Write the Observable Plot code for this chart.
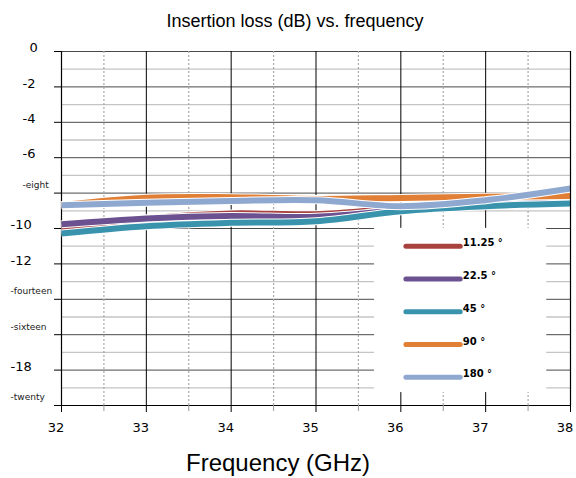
<!DOCTYPE html>
<html>
<head>
<meta charset="utf-8">
<script src="https://cdn.jsdelivr.net/npm/d3@7"></script>
<script src="https://cdn.jsdelivr.net/npm/@observablehq/plot@0.6"></script>
<style>
  body { margin: 0; background: white; }
  #chart { width: 576px; height: 478px; }
</style>
</head>
<body>
<div id="chart"></div>
<script>
// ---- data ----
const freqs = [32, 33, 34, 35, 36, 37, 38];
const seriesNames = ["11.25 °", "22.5 °", "45 °", "90 °", "180 °"];
const seriesColors = ["#a8423f", "#6b5190", "#3a93ad", "#e07f35", "#8fa8cf"];
const loss11 = [-10.0, -9.43, -9.15, -9.19, -8.85, -8.68, -8.40];
const loss22 = [-9.76, -9.43, -9.29, -9.34, -8.97, -8.68, -8.51];
const loss45 = [-10.28, -9.87, -9.68, -9.59, -9.02, -8.74, -8.59];
const loss90 = [-8.68, -8.26, -8.23, -8.33, -8.27, -8.21, -8.16];
const loss180 = [-8.68, -8.55, -8.44, -8.40, -8.74, -8.40, -7.74];
const seriesValues = [loss11, loss22, loss45, loss90, loss180];

const xTicks = [32, 33, 34, 35, 36, 37, 38];
const xHalfTicks = [32.5, 33.5, 34.5, 35.5, 36.5, 37.5];
const yTicks = [0, -2, -4, -6, -8, -10, -12, -14, -16, -18, -20];
const yTickLabels = ["0", "-2", "-4", "-6", "-eight", "-10", "-12", "-fourteen", "-sixteen", "-18", "-twenty"];
const yMinor = [-1, -3, -5, -7, -9, -11, -13, -15, -17, -19];

const titleText = "Insertion loss (dB) vs. frequency";
const xTitle = "Frequency (GHz)";

// ---- build ----
const rows = [];
seriesNames.forEach((name, i) => {
  freqs.forEach((f, j) => rows.push({series: name, idx: i, freq: f, loss: seriesValues[i][j]}));
});
const yLab = yTicks.map((v, i) => ({v, label: yTickLabels[i], word: isNaN(+yTickLabels[i])}));

// legend box & entries in data space
const legBox = [{x1: 35.69, x2: 37.72, y1: -9.99, y2: -19.27}];
const legItems = seriesNames.map((name, i) => ({name, color: seriesColors[i], y: -11.0 - i * 1.85}));

const lineMarks = [];
seriesNames.forEach((name, i) => {
  const d = rows.filter(r => r.idx === i);
  lineMarks.push(Plot.line(d, {x: "freq", y: "loss", stroke: "white", strokeWidth: 8, curve: "catmull-rom", strokeLinecap: "butt"}));
  lineMarks.push(Plot.line(d, {x: "freq", y: "loss", stroke: seriesColors[i], strokeWidth: 6, curve: "catmull-rom", strokeLinecap: "butt"}));
});

const numLab = yLab.filter(d => !d.word);
const wordLab = yLab.filter(d => d.word);
const startDx = v => v === 0 ? -32 : (v > -10 ? -39 : -51);

const chart = Plot.plot({
  width: 576,
  height: 478,
  marginTop: 51,
  marginBottom: 73,
  marginLeft: 61,
  marginRight: 6,
  x: {domain: [32, 38], axis: null},
  y: {domain: [-20, 0], axis: null},
  style: {fontFamily: "DejaVu Sans", background: "white", color: "black"},
  marks: [
    // grid
    Plot.ruleY(yMinor, {stroke: "#c4c4c4", strokeWidth: 1.3}),
    Plot.ruleY(yTicks, {stroke: "#4a4a4a", strokeWidth: 1}),
    Plot.ruleX(xHalfTicks, {stroke: "#a8a8a8", strokeWidth: 1.2, strokeDasharray: "2,2"}),
    Plot.ruleX(xTicks, {stroke: "black", strokeWidth: 1}),
    Plot.ruleY([-20], {stroke: "black", strokeWidth: 1.2}),
    Plot.ruleX([32], {stroke: "black", strokeWidth: 1.2}),
    // axes ticks
    Plot.axisX({ticks: xTicks, tickSize: 7, tickFormat: () => "", stroke: "black"}),
    Plot.axisX({ticks: xHalfTicks, tickSize: 6, tickFormat: () => "", stroke: "#999"}),
    Plot.axisY({ticks: yTicks, tickSize: 7, tickFormat: () => "", stroke: "black"}),
    // x tick labels
    Plot.text(xTicks, {x: d => d, text: d => String(d), frameAnchor: "bottom", dy: 22, dx: -5.5, lineAnchor: "middle", fontSize: 13, fill: "black"}),
    // y tick labels (three start positions)
    ...[0, -2, -10].map(grp => Plot.text(numLab.filter(d => startDx(d.v) === startDx(grp)), {
      y: "v", text: "label", frameAnchor: "left", textAnchor: "start", dx: startDx(grp), dy: -3.5,
      lineAnchor: "middle", fontSize: 13, fill: "black"
    })),
    ...[-8, -14].map(grp => Plot.text(wordLab.filter(d => startDx(d.v) === startDx(grp)), {
      y: "v", text: "label", frameAnchor: "left", textAnchor: "start", dx: startDx(grp), dy: -8,
      lineAnchor: "middle", fontSize: 9, fill: "#222"
    })),
    // data lines
    ...lineMarks,
    // legend
    Plot.rect(legBox, {x1: "x1", x2: "x2", y1: "y1", y2: "y2", fill: "white"}),
    Plot.link(legItems, {x1: () => 36.06, x2: () => 36.70, y1: "y", y2: "y", stroke: "color", strokeWidth: 5, strokeLinecap: "round"}),
    Plot.text(legItems, {x: () => 36.73, y: "y", text: "name", textAnchor: "start", dy: -3, lineAnchor: "middle", fontSize: 10, fontWeight: "bold", fill: "black"}),
    // border right
    Plot.ruleX([38], {stroke: "black", strokeWidth: 1.2}),
    // titles
    Plot.text([titleText], {text: d => d, frameAnchor: "top", dy: -30, dx: -21, lineAnchor: "middle", fontSize: 18, fontFamily: "Liberation Sans", fill: "black"}),
    Plot.text([xTitle], {text: d => d, frameAnchor: "bottom", dy: 58, dx: -38, lineAnchor: "middle", fontSize: 24, fontFamily: "Liberation Sans", fill: "black"})
  ]
});
document.getElementById("chart").appendChild(chart);
</script>
</body>
</html>
